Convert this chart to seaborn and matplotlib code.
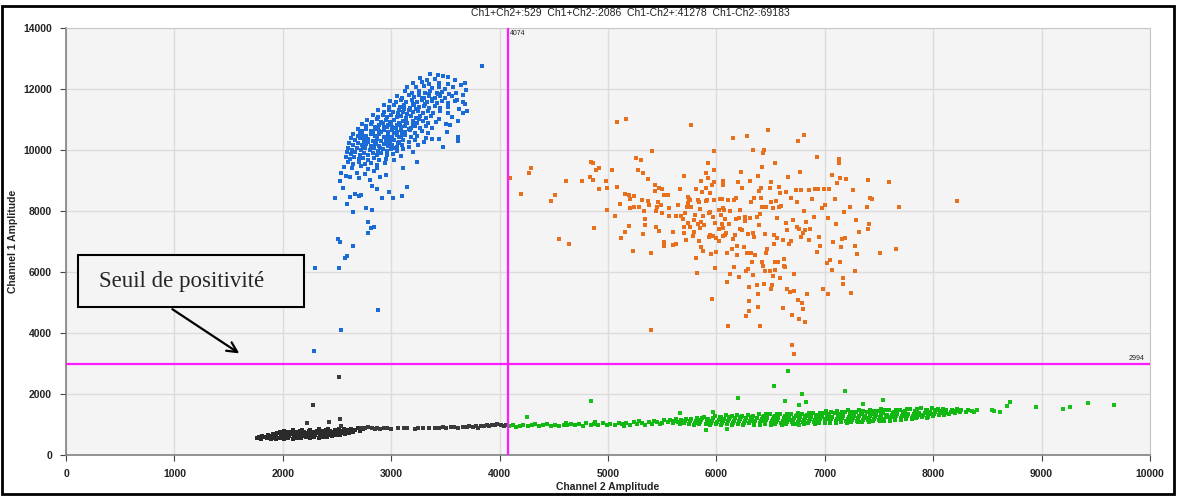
'''
ddPCR 2D amplitude plot: Channel 1 vs Channel 2 droplet clusters with thresholds
'''

import matplotlib.pyplot as plt
import seaborn as sns
import pandas as pd
from matplotlib.patches import Rectangle

# thresholds and droplet counts
thr_ch2 = 4074
thr_ch1 = 2994
counts = {"Ch1+Ch2+": 529, "Ch1+Ch2-": 2086, "Ch1-Ch2+": 41278, "Ch1-Ch2-": 69183}

# Ch1+Ch2+ droplets (orange), (ch2, ch1) amplitudes
orange = [
    (4100, 9070), (4195, 8560), (4270, 9260), (4290, 9420), (4470, 8330), (4510, 8510), (4550, 7080),
    (4610, 9000), (4640, 6920), (4760, 8980), (4830, 9130), (4840, 9610), (4860, 9580), (4860, 9020),
    (4870, 7430), (4890, 9330), (4920, 9420), (4920, 8710), (4980, 8980), (4990, 8760), (4990, 8020),
    (5040, 9350), (5060, 7850), (5080, 10920), (5080, 8780), (5110, 8240), (5120, 7100), (5160, 8560),
    (5160, 7300), (5170, 11020), (5190, 7520), (5190, 8540), (5200, 8400), (5200, 8110), (5230, 6680),
    (5240, 8500), (5240, 8120), (5260, 9740), (5280, 9330), (5290, 8140), (5300, 9660), (5310, 8370),
    (5320, 9260), (5320, 7240), (5330, 7990), (5340, 7750), (5340, 7540), (5370, 9040), (5370, 8340),
    (5380, 8200), (5400, 4110), (5400, 6610), (5410, 9980), (5430, 8640), (5430, 8850), (5440, 8000),
    (5440, 7460), (5450, 8140), (5460, 8280), (5470, 8760), (5470, 7330), (5490, 8210), (5500, 7940),
    (5500, 8710), (5520, 8520), (5520, 6850), (5520, 6970), (5550, 8520), (5560, 8110), (5560, 7840),
    (5600, 6880), (5600, 7320), (5630, 7840), (5630, 6910), (5650, 8200), (5660, 8710), (5670, 7820),
    (5690, 7730), (5700, 9150), (5700, 7480), (5700, 7290), (5710, 7930), (5720, 7050), (5730, 8120),
    (5740, 7620), (5740, 8260), (5740, 8470), (5750, 8390), (5760, 8360), (5760, 7490), (5770, 10820),
    (5770, 8120), (5780, 7190), (5790, 7690), (5790, 7320), (5800, 7870), (5810, 6460), (5810, 8720),
    (5820, 5960), (5830, 8370), (5830, 7560), (5840, 8310), (5840, 7030), (5850, 7430), (5850, 8050),
    (5860, 9000), (5860, 7650), (5860, 6830), (5870, 8630), (5880, 6690), (5880, 7850), (5890, 7540),
    (5900, 9260), (5900, 8340), (5900, 8750), (5910, 8370), (5920, 9090), (5920, 9560), (5930, 7150),
    (5930, 7920), (5940, 8600), (5940, 7200), (5940, 7970), (5950, 6580), (5960, 8850), (5960, 5110),
    (5970, 7810), (5970, 7170), (5980, 9330), (5980, 9980), (5980, 8350), (5980, 8940), (5990, 7620),
    (5990, 6120), (6000, 6660), (6000, 7110), (6020, 8020), (6020, 7000), (6020, 7410), (6030, 8400),
    (6040, 7870), (6050, 7580), (6050, 8380), (6060, 8990), (6060, 8850), (6060, 7170), (6060, 7430),
    (6060, 8090), (6070, 8020), (6080, 7730), (6080, 7210), (6090, 7290), (6100, 6610), (6100, 5680),
    (6110, 8360), (6110, 4220), (6120, 7560), (6130, 8000), (6130, 5940), (6140, 6760), (6150, 7090),
    (6150, 10400), (6160, 8360), (6160, 6160), (6170, 7200), (6180, 8410), (6180, 7750), (6190, 6550),
    (6190, 6850), (6200, 8960), (6210, 7760), (6210, 5840), (6220, 7410), (6220, 8030), (6230, 9290),
    (6240, 7370), (6240, 8740), (6250, 6820), (6260, 7680), (6265, 7800), (6270, 6040), (6270, 4560),
    (6280, 6610), (6280, 10460), (6290, 6100), (6290, 7230), (6300, 5500), (6300, 5060), (6300, 4720),
    (6310, 8970), (6310, 7760), (6320, 8310), (6320, 6610), (6330, 6330), (6340, 10000), (6340, 5910),
    (6340, 7280), (6350, 8430), (6350, 7160), (6360, 6550), (6370, 5580), (6370, 7790), (6380, 9150),
    (6380, 5290), (6380, 4850), (6390, 8670), (6390, 7530), (6400, 4240), (6400, 7900), (6410, 8440),
    (6410, 8740), (6420, 8120), (6420, 6330), (6420, 9430), (6430, 6200), (6430, 9890), (6440, 9990),
    (6440, 5620), (6450, 7240), (6450, 6040), (6460, 8120), (6460, 6630), (6470, 6740), (6480, 10640),
    (6490, 6030), (6490, 8750), (6500, 5430), (6500, 8310), (6500, 8960), (6510, 5570), (6520, 5860),
    (6520, 8110), (6530, 7210), (6530, 6920), (6540, 6070), (6540, 6330), (6540, 9580), (6550, 8330),
    (6560, 7760), (6560, 7110), (6570, 6330), (6580, 8120), (6580, 8800), (6590, 5790), (6590, 8580),
    (6600, 8150), (6610, 4810), (6610, 7050), (6620, 6210), (6620, 6440), (6630, 6170), (6640, 7620),
    (6640, 8620), (6650, 7380), (6650, 5430), (6660, 9130), (6670, 6920), (6680, 5330), (6690, 7030),
    (6690, 8410), (6700, 4590), (6700, 3600), (6720, 3300), (6710, 7700), (6720, 5380), (6720, 5950),
    (6730, 8690), (6740, 8290), (6740, 7490), (6750, 5080), (6750, 10300), (6760, 4450), (6760, 7420),
    (6770, 9290), (6780, 8680), (6780, 7150), (6790, 4990), (6800, 4780), (6800, 7290), (6810, 10480),
    (6810, 8000), (6820, 4350), (6820, 7380), (6830, 7650), (6840, 5280), (6850, 8680), (6850, 7060),
    (6860, 7410), (6880, 8390), (6900, 7810), (6910, 8710), (6930, 6660), (6930, 9760), (6940, 8730),
    (6950, 7160), (6960, 6850), (6970, 8090), (6980, 5430), (6990, 8710), (7000, 8200), (7020, 6280),
    (7030, 7760), (7030, 5280), (7040, 8720), (7050, 6390), (7070, 6070), (7070, 9180), (7080, 6980),
    (7090, 8380), (7100, 7570), (7110, 8930), (7130, 9560), (7130, 9700), (7140, 9090), (7140, 6340),
    (7150, 6810), (7160, 7080), (7170, 5600), (7170, 5790), (7180, 7980), (7190, 7100), (7200, 9050),
    (7230, 8140), (7240, 5300), (7260, 8680), (7280, 6040), (7280, 6850), (7290, 7700), (7300, 6590),
    (7320, 7310), (7390, 8140), (7400, 7420), (7400, 9020), (7410, 7570), (7420, 8430), (7440, 8400),
    (7510, 6630), (7590, 8960), (7660, 6740), (7680, 8130), (8220, 8330),
]

# Ch1+Ch2- droplets (blue)
blue = [
    (3360, 12480), (3430, 12460), (3480, 12430), (3520, 12390), (3270, 12350), (3330, 12300), (3400, 12330),
    (3590, 12280), (3200, 12200), (3280, 12230), (3350, 12160), (3440, 12210), (3520, 12150), (3640, 12120),
    (3150, 12080), (3230, 12060), (3300, 12100), (3380, 12020), (3440, 12060), (3500, 12000), (3570, 12070),
    (3690, 11980), (3130, 11930), (3190, 11880), (3260, 11950), (3310, 11870), (3360, 11920), (3420, 11860),
    (3470, 11910), (3530, 11850), (3600, 11880), (3660, 11800),
    (3050, 11780), (3100, 11720), (3160, 11800), (3210, 11740), (3260, 11790), (3300, 11700), (3350, 11770),
    (3400, 11720), (3450, 11780), (3500, 11700), (3560, 11760), (3610, 11650), (2990, 11620), (3040, 11560),
    (3090, 11640), (3140, 11580), (3190, 11650), (3240, 11570), (3280, 11630), (3330, 11560), (3380, 11620),
    (3420, 11550), (3470, 11600), (3520, 11530), (3590, 11600), (3680, 11520),
    (2930, 11470), (2980, 11400), (3030, 11480), (3080, 11410), (3120, 11460), (3170, 11390), (3210, 11470),
    (3260, 11400), (3300, 11450), (3350, 11380), (3400, 11440), (3450, 11370), (3520, 11420), (3630, 11350),
    (2880, 11310), (2930, 11250), (2980, 11320), (3020, 11260), (3070, 11300), (3110, 11230), (3160, 11310),
    (3200, 11240), (3250, 11290), (3290, 11220), (3340, 11280), (3390, 11210), (3450, 11270), (3520, 11200),
    (3700, 11280),
    (2830, 11150), (2880, 11090), (2920, 11160), (2960, 11080), (3000, 11140), (3050, 11070), (3090, 11130),
    (3140, 11060), (3180, 11120), (3230, 11050), (3270, 11110), (3320, 11040), (3370, 11100), (3440, 11030),
    (3560, 11080), (2780, 10990), (2820, 10930), (2870, 11000), (2910, 10920), (2950, 10980), (2990, 10910),
    (3030, 10970), (3070, 10900), (3110, 10960), (3150, 10890), (3200, 10950), (3240, 10880), (3290, 10940),
    (3340, 10870), (3410, 10920), (3510, 10860), (2730, 10840), (2770, 10780), (2810, 10850), (2850, 10770),
    (2890, 10830), (2930, 10760), (2970, 10820), (3010, 10750), (3050, 10810), (3090, 10740), (3130, 10800),
    (3180, 10730), (3220, 10790), (3270, 10720), (3320, 10780), (3380, 10710),
    (2690, 10690), (2730, 10630), (2770, 10700), (2810, 10620), (2850, 10680), (2890, 10610), (2930, 10670),
    (2970, 10600), (3010, 10660), (3050, 10590), (3090, 10650), (3130, 10580), (3170, 10640), (3220, 10570),
    (3280, 10630), (3340, 10560), (2650, 10530), (2690, 10470), (2730, 10540), (2770, 10460), (2810, 10520),
    (2850, 10450), (2890, 10510), (2930, 10440), (2970, 10500), (3010, 10430), (3050, 10490), (3090, 10420),
    (3130, 10480), (3180, 10410), (3240, 10470), (3320, 10400), (2630, 10380), (2670, 10320), (2710, 10390),
    (2750, 10310), (2790, 10370), (2830, 10300), (2870, 10360), (2910, 10290), (2950, 10350), (2990, 10280),
    (3030, 10340), (3070, 10270), (3110, 10330), (3160, 10260), (3220, 10320), (3300, 10250),
    (2610, 10220), (2650, 10160), (2690, 10230), (2730, 10150), (2770, 10210), (2810, 10140), (2850, 10200),
    (2890, 10130), (2930, 10190), (2970, 10120), (3010, 10180), (3050, 10110), (3100, 10170), (3160, 10100),
    (3250, 10150), (2600, 10070), (2640, 10010), (2680, 10080), (2720, 10000), (2760, 10060), (2800, 9990),
    (2840, 10050), (2880, 9980), (2920, 10040), (2960, 9970), (3000, 10030), (3050, 9960), (3110, 10020),
    (3200, 9950), (2590, 9920), (2630, 9860), (2670, 9930), (2710, 9850), (2750, 9910), (2790, 9840),
    (2830, 9900), (2870, 9830), (2910, 9890), (2960, 9820), (3020, 9880), (3090, 9810),
    (2710, 10560), (2750, 10400), (2790, 10250), (2830, 10580), (2870, 10430), (2910, 10580), (2950, 10250),
    (2990, 10400), (3030, 10550), (3070, 10420), (2740, 10100), (2780, 10300), (2820, 10080), (2860, 10260),
    (2900, 10060), (2940, 10420), (2980, 10180), (3020, 10060), (3060, 10230), (3100, 10550), (2880, 10700),
    (2960, 10740), (3040, 10720), (3000, 10850), (2920, 10880), (3080, 10880), (3140, 10930), (3160, 10690),
    (3200, 10850), (3260, 11010), (3150, 11170), (3230, 11350), (3310, 11510), (3380, 11660), (3430, 11820),
    (3060, 11200), (3120, 11350), (3200, 11520), (3280, 11690), (3350, 11840),
    (2580, 9760), (2620, 9700), (2660, 9780), (2700, 9690), (2740, 9750), (2790, 9680), (2840, 9740),
    (2890, 9670), (2950, 9720), (3030, 9660), (2600, 9600), (2650, 9540), (2700, 9610), (2760, 9530),
    (2810, 9590), (2870, 9520), (2940, 9570), (2560, 9450), (2640, 9400), (2720, 9460), (2790, 9380),
    (2870, 9420), (2680, 9260), (2760, 9220), (2840, 9300), (2950, 9180), (2580, 9150), (2700, 9080),
    (2800, 9020), (2900, 9100),
    (2482, 8415), (2590, 8229), (2620, 8470), (2651, 7956), (2666, 8557), (2706, 8492), (2722, 8524),
    (2765, 8109), (2826, 8022), (2783, 7628), (2811, 7431), (2845, 7486), (2783, 7267), (2506, 7082),
    (2528, 6994), (2651, 6863), (2574, 6448), (2590, 6535), (2297, 6120), (2522, 6120), (2912, 8415),
    (2983, 8634), (3020, 8415), (3097, 8503), (2866, 8710), (2820, 8820), (2559, 8765), (2528, 8984),
    (2537, 9235), (2620, 9126), (3143, 8798), (3235, 9617), (3112, 9399),
    (3835, 12765), (3681, 12186), (3666, 11585), (3666, 11202), (3620, 10951), (3614, 10437), (3620, 10306),
    (3475, 10109), (3543, 10820), (3512, 10601), (3441, 10371), (3374, 10350),
    (2290, 3410), (2537, 4100), (2878, 4750),
]

# Ch1-Ch2+ droplets (green)
green = [
    (4090, 950), (4120, 980), (4150, 930), (4190, 960), (4220, 1000), (4260, 940), (4300, 970), (4330, 1010),
    (4360, 950), (4400, 980), (4440, 1020), (4470, 960), (4510, 990), (4550, 940), (4590, 1000), (4620, 970),
    (4660, 1030), (4700, 980), (4730, 1010), (4770, 950), (4800, 1040), (4840, 990), (4870, 1020), (4910, 970),
    (4950, 1050), (4990, 1000), (5020, 1030), (5060, 980), (5100, 1060), (5130, 1010), (5170, 1040), (5200, 990),
    (5240, 1070), (5270, 1020), (5310, 1060), (5340, 1000), (5380, 1080), (5410, 1030), (5450, 1070), (5480, 1010),
    (4610, 1060), (4880, 1080), (5150, 960), (5290, 1110), (5420, 1120),
    (5500, 1060), (5520, 1140), (5550, 1080), (5570, 1150), (5600, 1050), (5610, 1120), (5630, 1170),
    (5650, 1080), (5670, 1150), (5660, 1020), (5700, 1060), (5710, 1130), (5720, 1190), (5750, 1030),
    (5760, 1100), (5770, 1170), (5800, 1050), (5810, 1120), (5820, 1200), (5790, 990), (5850, 1070),
    (5860, 1140), (5870, 1210), (5840, 1010), (5900, 1030), (5910, 1100), (5920, 1170), (5890, 1240),
    (5950, 1060), (5960, 1130), (5970, 1200), (5940, 990), (6000, 1020), (6010, 1090), (6020, 1160),
    (6030, 1230), (5990, 1290), (6050, 1050), (6060, 1120), (6070, 1190), (6040, 1260), (6045, 990),
    (6100, 1030), (6110, 1100), (6120, 1170), (6130, 1240), (6090, 1300), (6150, 1060), (6160, 1130),
    (6170, 1200), (6140, 1270), (6145, 990), (6200, 1030), (6210, 1100), (6220, 1170), (6230, 1240),
    (6190, 1310), (6250, 1060), (6260, 1130), (6270, 1200), (6240, 1270), (6245, 990), (6300, 1040),
    (6310, 1110), (6320, 1180), (6330, 1250), (6290, 1320), (6350, 1060), (6360, 1130), (6370, 1200),
    (6340, 1270), (6345, 1000), (6400, 1050), (6410, 1120), (6420, 1190), (6430, 1260), (6390, 1330),
    (6405, 990), (6450, 1070), (6460, 1140), (6470, 1210), (6440, 1280), (6445, 1010), (6455, 1350),
    (6500, 1050), (6510, 1120), (6520, 1190), (6530, 1260), (6490, 1330), (6505, 990), (6550, 1070),
    (6560, 1140), (6570, 1210), (6540, 1280), (6545, 1010), (6555, 1350), (6600, 1060), (6610, 1130),
    (6620, 1200), (6630, 1270), (6590, 1340), (6605, 1000), (6650, 1080), (6660, 1150), (6670, 1220),
    (6640, 1290), (6645, 1020), (6655, 1360), (6700, 1070), (6710, 1140), (6720, 1210), (6730, 1280),
    (6690, 1350), (6705, 1010), (6750, 1090), (6760, 1160), (6770, 1230), (6740, 1300), (6745, 1030),
    (6755, 1370), (6800, 1080), (6810, 1150), (6820, 1220), (6830, 1290), (6790, 1360), (6805, 1020),
    (6850, 1100), (6860, 1170), (6870, 1240), (6840, 1310), (6845, 1040), (6855, 1380), (6900, 1090),
    (6910, 1160), (6920, 1230), (6930, 1300), (6890, 1370), (6905, 1030), (6950, 1110), (6960, 1180),
    (6970, 1250), (6940, 1320), (6945, 1050), (6955, 1390), (7000, 1100), (7010, 1170), (7020, 1240),
    (7030, 1310), (6990, 1380), (7005, 1040), (7015, 1440), (7050, 1120), (7060, 1190), (7070, 1260),
    (7040, 1330), (7045, 1060), (7055, 1400), (7100, 1110), (7110, 1180), (7120, 1250), (7130, 1320),
    (7090, 1390), (7105, 1050), (7115, 1450), (7150, 1130), (7160, 1200), (7170, 1270), (7140, 1340),
    (7145, 1070), (7155, 1410), (7200, 1120), (7210, 1190), (7220, 1260), (7230, 1330), (7190, 1400),
    (7205, 1060), (7215, 1460), (7250, 1140), (7260, 1210), (7270, 1280), (7240, 1350), (7245, 1080),
    (7255, 1420), (7300, 1130), (7310, 1200), (7320, 1270), (7330, 1340), (7290, 1410), (7305, 1070),
    (7315, 1470), (7350, 1150), (7360, 1220), (7370, 1290), (7340, 1360), (7345, 1090), (7355, 1430),
    (7400, 1140), (7410, 1210), (7420, 1280), (7430, 1350), (7390, 1420), (7405, 1090), (7415, 1480),
    (7450, 1170), (7460, 1240), (7470, 1310), (7440, 1380), (7445, 1110), (7455, 1450), (7500, 1160),
    (7510, 1230), (7520, 1300), (7530, 1370), (7490, 1440), (7505, 1110), (7515, 1500), (7550, 1180),
    (7560, 1250), (7570, 1320), (7540, 1390), (7545, 1130), (7555, 1460), (7600, 1180), (7610, 1250),
    (7620, 1320), (7630, 1390), (7590, 1460), (7605, 1130), (7650, 1200), (7660, 1270), (7670, 1340),
    (7640, 1410), (7645, 1150), (7655, 1480), (7700, 1200), (7710, 1270), (7720, 1340), (7730, 1410),
    (7690, 1480), (7705, 1150), (7750, 1220), (7760, 1290), (7770, 1360), (7740, 1430), (7745, 1170),
    (7755, 1500), (7800, 1220), (7810, 1290), (7820, 1360), (7830, 1430), (7790, 1500), (7805, 1180),
    (7850, 1240), (7860, 1310), (7870, 1380), (7840, 1450), (7845, 1200), (7855, 1520), (7900, 1250),
    (7910, 1320), (7920, 1390), (7930, 1460), (7890, 1530), (7950, 1260), (7960, 1330), (7970, 1400),
    (7940, 1470), (7945, 1210), (8000, 1270), (8010, 1340), (8020, 1410), (8030, 1480), (7990, 1540),
    (8050, 1300), (8060, 1370), (8070, 1440), (8040, 1510), (8100, 1320), (8110, 1390), (8120, 1460),
    (8090, 1520), (8150, 1350), (8160, 1420), (8170, 1490), (8200, 1370), (8210, 1440), (8220, 1500),
    (8250, 1400), (8260, 1460), (8300, 1420), (8320, 1480),
]

# scattered Ch1-Ch2+ droplets away from the dense band
green_sparse = [
    (4252, 1233), (4840, 1756), (5660, 1367), (5968, 1400), (6200, 1867), (6528, 2278), (6664, 2756),
    (6632, 1756), (6788, 2000), (6828, 1722), (6760, 1644), (7188, 2111), (7540, 1811), (7352, 1667),
    (8712, 1722), (8680, 1611), (8540, 1480), (8560, 1440), (8620, 1400), (8952, 1590), (9200, 1500),
    (9264, 1590), (9428, 1700), (9664, 1644), (8380, 1400), (8400, 1480), (8360, 1450), (6100, 867),
    (5900, 811), (6760, 978),
]

# Ch1-Ch2- droplets (black)
black = [
    (1760, 560), (1780, 600), (1800, 540), (1810, 620), (1830, 580), (1850, 560), (1860, 640), (1870, 600),
    (1890, 540), (1900, 620), (1910, 690), (1930, 570), (1940, 650), (1950, 720), (1935, 510), (1970, 550),
    (1980, 620), (1990, 700), (1975, 760), (2010, 530), (2020, 600), (2030, 670), (2040, 740), (2015, 790),
    (2050, 560), (2060, 630), (2070, 700), (2080, 770), (2090, 540), (2100, 610), (2110, 680), (2120, 750),
    (2095, 810), (2130, 570), (2140, 640), (2150, 710), (2160, 780), (2170, 550), (2180, 620), (2190, 690),
    (2200, 760), (2175, 820), (2210, 580), (2220, 650), (2230, 720), (2240, 790), (2250, 560), (2260, 630),
    (2270, 700), (2280, 770), (2255, 830), (2290, 590), (2300, 660), (2310, 730), (2320, 800), (2330, 570),
    (2340, 640), (2350, 710), (2360, 780), (2335, 840), (2370, 600), (2380, 670), (2390, 740), (2400, 810),
    (2410, 590), (2420, 660), (2430, 730), (2440, 800), (2415, 850), (2450, 620), (2460, 690), (2470, 760),
    (2480, 830), (2490, 640), (2500, 710), (2510, 780), (2520, 850), (2530, 660), (2540, 730), (2550, 800),
    (2560, 860), (2570, 690), (2580, 760), (2590, 830), (2610, 720), (2620, 790), (2630, 860), (2650, 760),
    (2670, 830), (2690, 880), (2710, 800), (2740, 860),
]

# sparse Ch1-Ch2- tail and outliers
black_sparse = [
    (2720, 900), (2760, 870), (2790, 910), (2820, 880), (2850, 860), (2870, 900), (2900, 850), (2930, 890),
    (2960, 870), (3000, 860), (3060, 880), (3120, 900), (3150, 870), (3220, 860), (3250, 880), (3290, 890),
    (3350, 870), (3400, 900), (3440, 880), (3480, 920), (3510, 900), (3550, 910), (3580, 930), (3620, 900),
    (3660, 930), (3700, 910), (3720, 950), (3750, 930), (3780, 960), (3800, 900), (3830, 940), (3860, 960),
    (3880, 990), (3900, 950), (3930, 1000), (3960, 970), (3980, 1010), (4010, 990), (4040, 960), (4060, 1000),
    (2280, 1640), (2220, 1050), (2430, 1080), (2530, 1180), (2540, 950), (2520, 2560),
]

sns.set_style("whitegrid")
plt.rcParams["font.family"] = ["Liberation Sans", "DejaVu Sans"]

fig = plt.figure(figsize=(11.79, 4.97), dpi=100)
ax = fig.add_axes([66 / 1179, 42 / 497, 1084 / 1179, 427 / 497])
ax.set_facecolor("#f4f4f4")

# (points, colour, marker size)
layers = [
    (black, "#2b2b2b", 11),
    (black_sparse, "#3a3a3a", 5),
    (green, "#12b812", 11),
    (green_sparse, "#16c016", 5),
    (blue, "#1a6bd6", 6),
    (orange, "#e8701c", 5.5),
]
for pts, col, size in layers:
    d = pd.DataFrame(pts, columns=["ch2", "ch1"])
    sns.scatterplot(data=d, x="ch2", y="ch1", color=col, marker="s", s=size,
                    linewidth=0, legend=False, ax=ax, zorder=3)

# threshold lines
ax.axvline(thr_ch2, color="#ff1aff", lw=1.6, zorder=4)
ax.axhline(thr_ch1, color="#ff1aff", lw=1.6, zorder=4)
ax.text(thr_ch2 + 25, 13930, str(thr_ch2), fontsize=5, va="top", ha="left", color="#222")
ax.text(9950, thr_ch1 + 60, str(thr_ch1), fontsize=5, va="bottom", ha="right", color="#222")

ax.set_xlim(0, 10000)
ax.set_ylim(0, 14000)
ax.set_xticks(range(0, 10001, 1000))
ax.set_yticks(range(0, 14001, 2000))
ax.grid(True, color="#dcdcdc", lw=1)
ax.tick_params(axis="both", labelsize=7.5, length=4, color="#444", direction="out", pad=6)
for lab in ax.get_xticklabels() + ax.get_yticklabels():
    lab.set_fontweight("bold")
    lab.set_color("#222")
for side in ["left", "bottom"]:
    ax.spines[side].set_color("#808080")
    ax.spines[side].set_linewidth(1.2)
for side in ["top", "right"]:
    ax.spines[side].set_color("#c8c8c8")
ax.tick_params(left=True, bottom=True)

ax.set_xlabel("Channel 2 Amplitude", fontsize=7.5, fontweight="bold", color="#222", labelpad=2)
ax.set_ylabel("Channel 1 Amplitude", fontsize=7.5, fontweight="bold", color="#222", labelpad=4)

title = "  ".join(f"{k}:{v}" for k, v in counts.items())
fig.text(630 / 1179, 1 - 13 / 497, title, fontsize=7.5, ha="center", va="center", color="#222")

# annotation box and arrow
ax.add_patch(Rectangle((110, 4850), 2090, 1720, fc="#f4f4f4", ec="black", lw=1.5, zorder=5))
ax.text(300, 5700, "Seuil de positivité", fontsize=16.5, family="Liberation Serif",
        ha="left", va="center", zorder=6)
ax.annotate("", xy=(1620, 3280), xytext=(960, 4830),
            arrowprops=dict(arrowstyle="->", lw=1.6, color="black", mutation_scale=18), zorder=6)

# outer frame
fig.patches.append(Rectangle((2 / 1179, 3 / 497), 1172 / 1179, 488 / 497, transform=fig.transFigure,
                             fill=False, ec="black", lw=2))

fig.savefig("out.png", dpi=100)
